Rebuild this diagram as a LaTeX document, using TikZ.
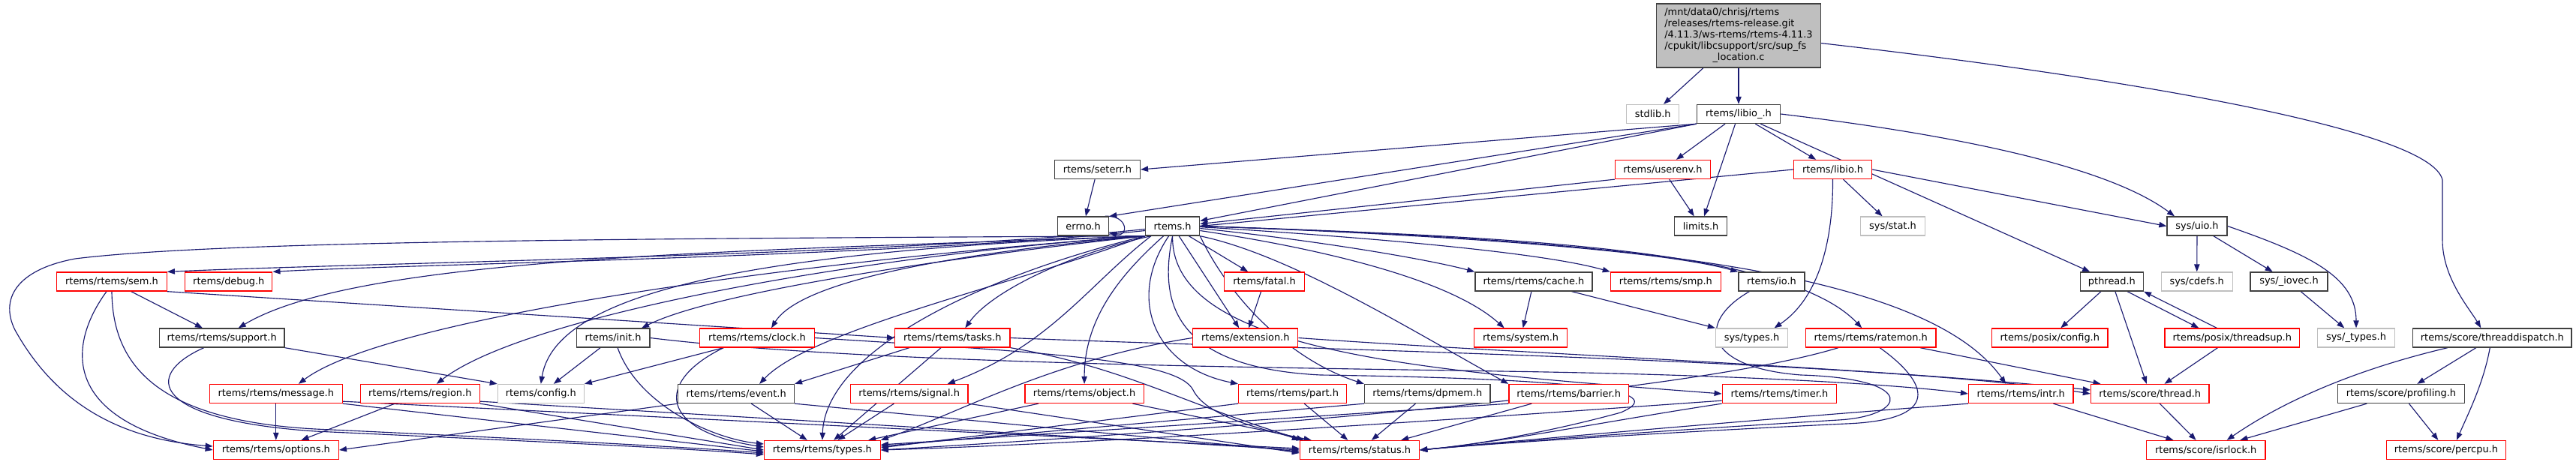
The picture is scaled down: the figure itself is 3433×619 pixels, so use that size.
\documentclass[tikz,border=0pt]{standalone}
\usepackage{fontspec}
\setmainfont{DejaVu Sans}
\usetikzlibrary{arrows.meta,calc,backgrounds}
\definecolor{edgec}{RGB}{25,25,112}
\definecolor{nblack}{RGB}{64,64,64}
\definecolor{ngray}{RGB}{191,191,191}
\definecolor{nred}{RGB}{255,0,0}
\definecolor{mainfill}{RGB}{191,191,191}
\begin{document}
\begin{tikzpicture}[x=0.75pt,y=-0.75pt,
  font=\fontsize{9.7pt}{11.1pt}\selectfont,
  nb/.style={draw=nblack,fill=white,line width=1pt,inner sep=0pt,minimum height=18.75pt},
  nr/.style={nb,draw=nred},
  ng/.style={nb,draw=ngray},
  wd/.style={minimum width=#1*0.75pt},
  e/.style={draw=edgec,line width=0.85pt,-{Triangle[length=7.5pt,width=5.5pt]}}]
\useasboundingbox (0,0) rectangle (3433,619);
% row 0
\node[nb,fill=mainfill,wd=219,minimum height=63.75pt] (main) at (2317,47.6)
 {\begin{tabular}{@{}l@{}}/mnt/data0/chrisj/rtems\\/releases/rtems-release.git\\/4.11.3/ws-rtems/rtems-4.11.3\\/cpukit/libcsupport/src/sup\_fs\\\multicolumn{1}{@{}c@{}}{\_location.c}\end{tabular}};
% row 1
\node[ng,wd=70] (stdlib) at (2202.7,152) {stdlib.h};
\node[nb,wd=111] (libiou) at (2317,152) {rtems/libio\_.h};
% row 2
\node[nb,wd=114] (seterr) at (1462.4,226) {rtems/seterr.h};
\node[nr,wd=127] (userenv) at (2215.9,226) {rtems/userenv.h};
\node[nr,wd=104] (libio) at (2442.5,226) {rtems/libio.h};
% row 3
\node[nb,wd=68] (errno) at (1443.6,301.5) {errno.h};
\node[nb,wd=72] (rtemsh) at (1562.6,301.5) {rtems.h};
\node[nb,wd=70] (limits) at (2266.6,301.5) {limits.h};
\node[ng,wd=86] (sysstat) at (2522.5,301.5) {sys/stat.h};
\node[nb,wd=80] (sysuio) at (2928,301.5) {sys/uio.h};
% row 4
\node[nr,wd=146.5] (sem) at (149,375.5) {rtems/rtems/sem.h};
\node[nr,wd=116] (debug) at (304.8,375.5) {rtems/debug.h};
\node[nr,wd=107] (fatal) at (1685,375.5) {rtems/fatal.h};
\node[nb,wd=156] (cache) at (2043.9,375.5) {rtems/rtems/cache.h};
\node[nr,wd=147] (smp) at (2219.9,375.5) {rtems/rtems/smp.h};
\node[nb,wd=88] (io) at (2361,375.5) {rtems/io.h};
\node[nb,wd=84] (pthread) at (2814.4,375.5) {pthread.h};
\node[ng,wd=95] (cdefs) at (2927.7,375.5) {sys/cdefs.h};
\node[nb,wd=103] (iovec) at (3050.5,375.5) {sys/\_iovec.h};
% row 5
\node[nb,wd=166.5] (support) at (295.7,450.5) {rtems/rtems/support.h};
\node[nb,wd=97.6] (init) at (817.1,450.5) {rtems/init.h};
\node[nr,wd=152.4] (clock) at (1009,450.5) {rtems/rtems/clock.h};
\node[nr,wd=153.5] (tasks) at (1269.3,450.5) {rtems/rtems/tasks.h};
\node[nr,wd=140] (extension) at (1659.8,450.5) {rtems/extension.h};
\node[nr,wd=124] (system) at (2026.6,450.5) {rtems/system.h};
\node[ng,wd=96] (systypes) at (2334.5,450.5) {sys/types.h};
\node[nr,wd=173.4] (ratemon) at (2493.2,450.5) {rtems/rtems/ratemon.h};
\node[nr,wd=154.6] (posixconfig) at (2731.8,450.5) {rtems/posix/config.h};
\node[nr,wd=179.7] (threadsup) at (2974.8,450.5) {rtems/posix/threadsup.h};
\node[ng,wd=102.7] (ustypes) at (3140,450.5) {sys/\_types.h};
\node[nb,wd=211.5] (tdisp) at (3321.3,450.5) {rtems/score/threaddispatch.h};
% row 6
\node[nr,wd=176.8] (message) at (367.8,525) {rtems/rtems/message.h};
\node[nr,wd=159] (region) at (559.8,525) {rtems/rtems/region.h};
\node[ng,wd=114.8] (config) at (720.8,525) {rtems/config.h};
\node[nb,wd=154.6] (event) at (981.1,525) {rtems/rtems/event.h};
\node[nr,wd=156.6] (signal) at (1211.7,525) {rtems/rtems/signal.h};
\node[nr,wd=158.4] (object) at (1445.1,525) {rtems/rtems/object.h};
\node[nr,wd=143.7] (part) at (1722.5,525) {rtems/rtems/part.h};
\node[nb,wd=167.6] (dpmem) at (1902.3,525) {rtems/rtems/dpmem.h};
\node[nr,wd=159.6] (barrier) at (2090.7,525) {rtems/rtems/barrier.h};
\node[nr,wd=152.5] (timer) at (2371.5,525) {rtems/rtems/timer.h};
\node[nr,wd=139.3] (intr) at (2693.2,525) {rtems/rtems/intr.h};
\node[nr,wd=157.4] (sthread) at (2865.2,525) {rtems/score/thread.h};
\node[nb,wd=168.6] (profiling) at (3199.9,525) {rtems/score/profiling.h};
% row 7
\node[nr,wd=167] (options) at (367.8,600) {rtems/rtems/options.h};
\node[nr,wd=154.6] (types) at (1095.9,600) {rtems/rtems/types.h};
\node[nr,wd=159] (status) at (1812,600) {rtems/rtems/status.h};
\node[nr,wd=158.6] (isrlock) at (2939.7,600) {rtems/score/isrlock.h};
\node[nr,wd=158.8] (percpu) at (3259.9,600) {rtems/score/percpu.h};

\begin{scope}[on background layer]
\fill[white] (0,0) rectangle (3433,619);
% main
\draw[e] (main) -- (stdlib);
\draw[e] (main) -- (libiou);
\draw[e] ($(main.east)+(0,10)$) .. controls (2800,100) and (3240,170) .. (3255,240) -- (3255,320) .. controls (3255,370) and (3290,410) .. ($(tdisp.north)+(-15,0)$);
% libio_.h
\draw[e] (libiou.south west) -- (seterr.east);
\draw[e] (libiou.south west) -- (errno.north east);
\draw[e] (libiou.south west) -- ($(rtemsh.east)+(0,-7)$);
\draw[e] (libiou) -- (userenv);
\draw[e] (libiou) -- (limits);
\draw[e] (libiou) -- (libio);
\draw[e] (libiou) -- (pthread);
\draw[e] (libiou.east) .. controls (2650,185) and (2820,230) .. ($(sysuio.north)+(-30,0)$);
% seterr, errno
\draw[e] (seterr) -- (errno);
\draw[e] ($(errno.north east)+(-6,0)$) .. controls ($(errno.north east)+(26,-2)$) and ($(errno.south east)+(26,2)$) .. ($(errno.east)+(0,9)$);
% userenv, libio
\draw[e] (userenv.south west) -- ($(rtemsh.east)+(0,-3)$);
\draw[e] (userenv) -- (limits);
\draw[e] (libio.west) -- (rtemsh.east);
\draw[e] (libio) -- (sysstat);
\draw[e] (libio.east) -- (sysuio.west);
\draw[e] (libio.south) .. controls (2443,330) and (2420,400) .. ($(systypes.north)+(30,0)$);
% sys/uio
\draw[e] (sysuio) -- (cdefs);
\draw[e] (sysuio) -- (iovec);
\draw[e] (sysuio.east) .. controls (3080,340) and (3140,370) .. (ustypes.north);
\draw[e] (iovec) -- (ustypes);
% pthread, threadsup
\draw[e] (pthread) -- (posixconfig);
\draw[e] (pthread) -- (sthread);
\draw[e] ($(pthread.south east)+(-22,0)$) -- ($(threadsup.north west)+(46,0)$);
\draw[e] ($(threadsup.north west)+(70,0)$) -- (pthread.south east);
\draw[e] (threadsup) -- (sthread);
% threaddispatch, profiling
\draw[e] ($(tdisp.south west)+(47,0)$) .. controls (3150,490) and (3050,530) .. ($(isrlock.north east)+(-52,0)$);
\draw[e] (tdisp) -- (profiling);
\draw[e] ($(tdisp.south)+(-3,0)$) .. controls (3310,510) and (3290,550) .. ($(percpu.north)+(14,0)$);
\draw[e] (profiling) -- (isrlock);
\draw[e] (profiling) -- (percpu);
\draw[e] (sthread) -- (isrlock);
% intr
\draw[e] (intr) -- (isrlock);
\draw[e] (intr.south west) .. controls (2400,555) and (2100,580) .. (status.east);
% ratemon
\draw[e] (ratemon) -- (sthread);
\draw[e] ($(ratemon.south west)+(44,0)$) .. controls (2250,525) and (1600,575) .. (types.east);
\draw[e] ($(ratemon.south)+(12,0)$) .. controls (2570,510) and (2590,560) .. (2460,565) .. controls (2250,575) and (2000,590) .. (status.east);
% timer
\draw[e] ($(timer.south west)+(0,-4)$) .. controls (2000,555) and (1500,590) .. (types.east);
\draw[e] (timer.south west) .. controls (2150,560) and (2000,590) .. (status.east);
% io
\draw[e] ($(io.south west)+(15,0)$) .. controls (2260,430) and (2270,490) .. (2400,500) .. controls (2560,505) and (2540,555) .. (2450,560) .. controls (2200,575) and (2000,590) .. (status.east);
% cache, fatal
\draw[e] (cache) -- (system);
\draw[e] ($(cache.south east)+(-28,0)$) -- (systypes.north west);
\draw[e] (fatal) -- (extension);
% rtems.h
\draw[e] (rtemsh) -- (fatal);
\draw[e] (rtemsh) -- (extension);
\draw[e] ($(rtemsh.west)+(0,4)$) .. controls (1200,340) and (500,350) .. (sem.north east);
\draw[e] ($(rtemsh.west)+(0,6)$) .. controls (1200,342) and (550,352) .. (debug.north east);
\draw[e] (rtemsh.south west) .. controls (1000,335) and (480,340) .. ($(support.north)+(22,0)$);
\draw[e] (rtemsh.south west) .. controls (900,318) and (300,320) .. (100,345) .. controls (20,360) and (0,400) .. (20,440) .. controls (70,530) and (150,585) .. ($(options.west)+(0,-5)$);
\draw[e] (rtemsh.south west) .. controls (1100,345) and (520,420) .. ($(message.north)+(30,0)$);
\draw[e] (rtemsh.south west) .. controls (1150,340) and (700,420) .. ($(region.north)+(22,0)$);
\draw[e] (rtemsh.south west) .. controls (1000,335) and (740,390) .. (config.north);
\draw[e] (rtemsh.south west) .. controls (1250,345) and (950,390) .. ($(init.north)+(38,0)$);
\draw[e] (rtemsh.south west) .. controls (1300,335) and (1070,370) .. ($(clock.north)+(19,0)$);
\draw[e] (rtemsh.south west) .. controls (1350,380) and (1080,440) .. ($(event.north)+(31,0)$);
\draw[e] (rtemsh.south west) .. controls (1300,370) and (1100,470) .. (types.north);
\draw[e] ($(rtemsh.south west)+(8,0)$) .. controls (1420,340) and (1320,390) .. ($(tasks.north)+(17,0)$);
\draw[e] ($(rtemsh.south west)+(8,0)$) .. controls (1450,380) and (1400,460) .. ($(signal.north)+(51,0)$);
\draw[e] ($(rtemsh.south)+(-12,0)$) .. controls (1500,360) and (1445,420) .. (object.north);
\draw[e] ($(rtemsh.south)+(-5,0)$) .. controls (1500,400) and (1540,490) .. (part.north west);
\draw[e] (rtemsh.south) .. controls (1545,400) and (1560,490) .. (1760,500) .. controls (2100,505) and (2230,520) .. (2160,550) .. controls (2050,580) and (1950,595) .. (status.east);
\draw[e] ($(rtemsh.east)+(0,3)$) .. controls (1750,320) and (1900,345) .. (cache.north west);
\draw[e] ($(rtemsh.east)+(0,1)$) .. controls (1800,315) and (2050,335) .. (smp.north west);
\draw[e] (rtemsh.east) .. controls (1850,310) and (2200,330) .. (io.north west);
\draw[e] ($(rtemsh.east)+(0,6)$) .. controls (1750,330) and (1930,370) .. ($(system.north)+(-22,0)$);
\draw[e] (rtemsh.south east) .. controls (1720,340) and (1880,440) .. (barrier.north west);
\draw[e] (rtemsh.south east) .. controls (1640,400) and (1720,480) .. (dpmem.north west);
\draw[e] (rtemsh.south) .. controls (1560,470) and (1900,495) .. (timer.west);
\draw[e] (rtemsh.east) .. controls (2000,315) and (2380,330) .. ($(ratemon.north)+(-12,0)$);
\draw[e] (rtemsh.east) .. controls (2100,318) and (2560,350) .. ($(intr.north)+(-20,0)$);
% sem, support
\draw[e] (sem) -- (support);
\draw[e] (sem.south east) -- (tasks.west);
\draw[e] ($(sem.south)+(-7,0)$) .. controls (90,460) and (80,560) .. (options.west);
\draw[e] (sem.south) .. controls (150,480) and (200,560) .. (420,572) .. controls (700,585) and (900,595) .. ($(types.west)+(0,4)$);
\draw[e] ($(support.south)+(-24,0)$) .. controls (190,500) and (200,560) .. (420,575) .. controls (700,588) and (900,597) .. ($(types.west)+(0,6)$);
\draw[e] (support.south east) -- (config.north west);
% message, region
\draw[e] (message) -- (options);
\draw[e] (message.south east) -- ($(types.west)+(0,2)$);
\draw[e] ($(message.south east)+(0,-3)$) -- ($(status.west)+(0,-2)$);
\draw[e] (region) -- (options);
\draw[e] (region.south east) -- (types.west);
\draw[e] ($(region.south east)+(0,-3)$) -- (status.west);
% init, clock
\draw[e] (init) -- (config);
\draw[e] ($(init.south)+(6,0)$) .. controls (850,540) and (950,585) .. ($(types.west)+(0,-8)$);
\draw[e] (init.east) .. controls (1150,485) and (1700,490) .. (2000,495) .. controls (2350,500) and (2550,515) .. (intr.west);
\draw[e] ($(clock.south west)+(32,0)$) -- (config.north east);
\draw[e] ($(clock.south west)+(32,0)$) .. controls (870,510) and (880,575) .. ($(types.west)+(0,-4)$);
\draw[e] (clock.east) .. controls (1400,470) and (1570,480) .. (1590,520) .. controls (1610,560) and (1700,575) .. (status.north west);
% event, tasks
\draw[e] (event.south west) -- (options.east);
\draw[e] (event) -- (types);
\draw[e] (event.south east) -- ($(status.west)+(0,2)$);
\draw[e] ($(tasks.south west)+(20,0)$) -- (event.north east);
\draw[e] (tasks) -- (types);
\draw[e] (tasks.south east) .. controls (1500,490) and (1580,540) .. ($(status.north west)+(6,0)$);
\draw[e] (tasks.east) .. controls (1700,465) and (2500,480) .. (sthread.west);
% extension
\draw[e] (extension.west) .. controls (1400,480) and (1280,550) .. (types.north east);
\draw[e] (extension.east) .. controls (2000,470) and (2500,490) .. ($(sthread.west)+(0,-5)$);
% signal, object, part, dpmem, barrier
\draw[e] (signal) -- (types);
\draw[e] (signal.south east) -- ($(status.west)+(0,4)$);
\draw[e] (object) -- (types);
\draw[e] (object) -- (status);
\draw[e] (part.south west) -- ($(types.east)+(0,-3)$);
\draw[e] (part) -- (status);
\draw[e] (dpmem.south west) -- ($(types.east)+(0,-5)$);
\draw[e] (dpmem) -- (status);
\draw[e] (barrier.south west) -- ($(types.east)+(0,-7)$);
\draw[e] ($(barrier.south west)+(31,0)$) -- ($(status.north east)+(-25,0)$);
\end{scope}
\end{tikzpicture}
\end{document}
